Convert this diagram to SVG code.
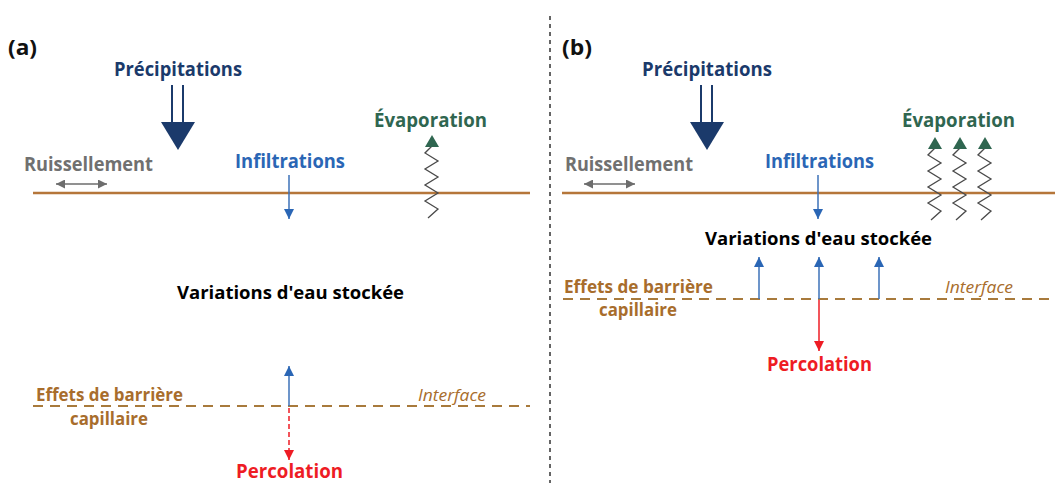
<svg xmlns="http://www.w3.org/2000/svg" xmlns:xlink="http://www.w3.org/1999/xlink" width="1055" height="483" viewBox="0 0 1055 483">
<style>
text{font-family:"Open Sans","Liberation Sans",sans-serif;font-weight:bold;}
.panel{font-size:22px;fill:#111;}
.prec{font-size:20px;fill:#1b3a6b;}
.ruis{font-size:19px;fill:#707070;}
.infl{font-size:19px;fill:#2a66b5;}
.evap{font-size:20px;fill:#2f6650;}
.var{font-size:17.5px;fill:#000;}
.eff{font-size:17.5px;fill:#a86d2c;}
.intf{font-size:17px;fill:#a86d2c;font-weight:normal;font-style:italic;}
.perc{font-size:20px;fill:#ee1c24;}
.ground{stroke:#b5763a;stroke-width:2.5;fill:none;}
.iface{stroke:#a87a3c;stroke-width:2.2;stroke-dasharray:10,7;fill:none;}
.blue{stroke:#3d72b8;stroke-width:1.5;fill:none;}
.red{stroke:#ee1c24;stroke-width:1.5;fill:none;}
.redd{stroke:#ee1c24;stroke-width:1.5;stroke-dasharray:5,3;fill:none;}
.gray{stroke:#6d6d6d;stroke-width:1.5;fill:none;}
.zig{stroke:#4a4a4a;stroke-width:1.3;fill:none;}
.navy{stroke:#1b3a6b;stroke-width:2;fill:none;}
.divider{stroke:#333;stroke-width:1.5;stroke-dasharray:4,4;fill:none;}
</style>
<defs>
<marker id="mBlue" viewBox="0 0 10 10" refX="10" refY="5" markerWidth="10" markerHeight="11" markerUnits="userSpaceOnUse" orient="auto"><path d="M0,0 L10,5 L0,10 z" fill="#2a66b5"/></marker>
<marker id="mRed" viewBox="0 0 10 10" refX="10" refY="5" markerWidth="10" markerHeight="11" markerUnits="userSpaceOnUse" orient="auto"><path d="M0,0 L10,5 L0,10 z" fill="#ee1c24"/></marker>
<marker id="mGray" viewBox="0 0 10 10" refX="10" refY="5" markerWidth="9" markerHeight="9" markerUnits="userSpaceOnUse" orient="auto-start-reverse"><path d="M0,0 L10,5 L0,10 z" fill="#6d6d6d"/></marker>
<path id="evapHead" d="M-7,0 L7,0 L0,-12 z" fill="#2f6650"/>
<polyline id="zigzag" points="0,0 -7,7 6,15 -7,23 6,31 -7,39 6,47 -7,55 6,63 -4,72"/>
</defs>

<line class="divider" x1="550" y1="16" x2="550" y2="483"/>

<!-- Panel (a) -->
<g id="label-a"><text class="panel" x="8" y="55" textLength="29" lengthAdjust="spacingAndGlyphs">(a)</text></g>
<g id="precip-a"><text class="prec" x="114" y="76" textLength="128" lengthAdjust="spacingAndGlyphs">Précipitations</text></g>
<g id="ruis-a"><text class="ruis" x="24" y="171" textLength="129" lengthAdjust="spacingAndGlyphs">Ruissellement</text></g>
<g id="infl-a"><text class="infl" x="235" y="168" textLength="110" lengthAdjust="spacingAndGlyphs">Infiltrations</text></g>
<g id="evap-a"><text class="evap" x="374" y="127" textLength="113" lengthAdjust="spacingAndGlyphs">Évaporation</text></g>
<g id="var-a"><text class="var" x="177" y="299" textLength="227" lengthAdjust="spacingAndGlyphs">Variations d'eau stockée</text></g>
<g id="eff-a">
<text class="eff" x="36" y="401" textLength="147" lengthAdjust="spacingAndGlyphs">Effets de barrière</text>
<text class="eff" x="70" y="425" textLength="78" lengthAdjust="spacingAndGlyphs">capillaire</text>
</g>
<g id="intf-a"><text class="intf" x="418" y="401" textLength="68" lengthAdjust="spacingAndGlyphs">Interface</text></g>
<g id="perc-a"><text class="perc" x="236" y="478" textLength="107" lengthAdjust="spacingAndGlyphs">Percolation</text></g>
<g id="ground-a"><line class="ground" x1="33" y1="193" x2="530" y2="193"/></g>
<g id="iface-a"><line class="iface" x1="33" y1="406" x2="530" y2="406"/></g>

<!-- Panel (b) -->
<g id="label-b"><text class="panel" x="562" y="55" textLength="30" lengthAdjust="spacingAndGlyphs">(b)</text></g>
<g id="precip-b"><text class="prec" x="642" y="76" textLength="130" lengthAdjust="spacingAndGlyphs">Précipitations</text></g>
<g id="ruis-b"><text class="ruis" x="565" y="171" textLength="128" lengthAdjust="spacingAndGlyphs">Ruissellement</text></g>
<g id="infl-b"><text class="infl" x="765" y="168" textLength="109" lengthAdjust="spacingAndGlyphs">Infiltrations</text></g>
<g id="evap-b"><text class="evap" x="902" y="127" textLength="113" lengthAdjust="spacingAndGlyphs">Évaporation</text></g>
<g id="var-b"><text class="var" x="705" y="245" textLength="227" lengthAdjust="spacingAndGlyphs">Variations d'eau stockée</text></g>
<g id="eff-b">
<text class="eff" x="564" y="293" textLength="149" lengthAdjust="spacingAndGlyphs">Effets de barrière</text>
<text class="eff" x="599" y="316" textLength="78" lengthAdjust="spacingAndGlyphs">capillaire</text>
</g>
<g id="intf-b"><text class="intf" x="945" y="293" textLength="68" lengthAdjust="spacingAndGlyphs">Interface</text></g>
<g id="perc-b"><text class="perc" x="767" y="371" textLength="105" lengthAdjust="spacingAndGlyphs">Percolation</text></g>
<g id="ground-b"><line class="ground" x1="562" y1="193" x2="1055" y2="193"/></g>
<g id="iface-b"><line class="iface" x1="563" y1="299" x2="1055" y2="299"/></g>

<!-- Connectors -->
<g id="connectors">
<line class="navy" x1="172" y1="85" x2="172" y2="123"/>
<line class="navy" x1="183" y1="85" x2="183" y2="123"/>
<polygon points="161,122 195,122 178,150" fill="#1b3a6b"/>
<line class="gray" x1="56" y1="184" x2="107" y2="184" marker-start="url(#mGray)" marker-end="url(#mGray)"/>
<line class="blue" x1="289" y1="175" x2="289" y2="219" marker-end="url(#mBlue)"/>
<use xlink:href="#zigzag" class="zig" transform="translate(432,146)"/>
<use xlink:href="#evapHead" transform="translate(432,147)"/>
<line class="blue" x1="289" y1="406" x2="289" y2="366" marker-end="url(#mBlue)"/>
<line class="redd" x1="289" y1="408" x2="289" y2="460" marker-end="url(#mRed)"/>
<line class="navy" x1="701" y1="85" x2="701" y2="123"/>
<line class="navy" x1="712" y1="85" x2="712" y2="123"/>
<polygon points="690,122 724,122 707,150" fill="#1b3a6b"/>
<line class="gray" x1="584" y1="184" x2="635" y2="184" marker-start="url(#mGray)" marker-end="url(#mGray)"/>
<line class="blue" x1="818" y1="175" x2="818" y2="219" marker-end="url(#mBlue)"/>
<use xlink:href="#zigzag" class="zig" transform="translate(935,148)"/>
<use xlink:href="#evapHead" transform="translate(935,149)"/>
<use xlink:href="#zigzag" class="zig" transform="translate(960,148)"/>
<use xlink:href="#evapHead" transform="translate(960,149)"/>
<use xlink:href="#zigzag" class="zig" transform="translate(985,148)"/>
<use xlink:href="#evapHead" transform="translate(985,149)"/>
<line class="blue" x1="759" y1="299" x2="759" y2="257" marker-end="url(#mBlue)"/>
<line class="blue" x1="819" y1="299" x2="819" y2="257" marker-end="url(#mBlue)"/>
<line class="blue" x1="879" y1="299" x2="879" y2="257" marker-end="url(#mBlue)"/>
<line class="red" x1="819" y1="300" x2="819" y2="351" marker-end="url(#mRed)"/>
</g>
</svg>
